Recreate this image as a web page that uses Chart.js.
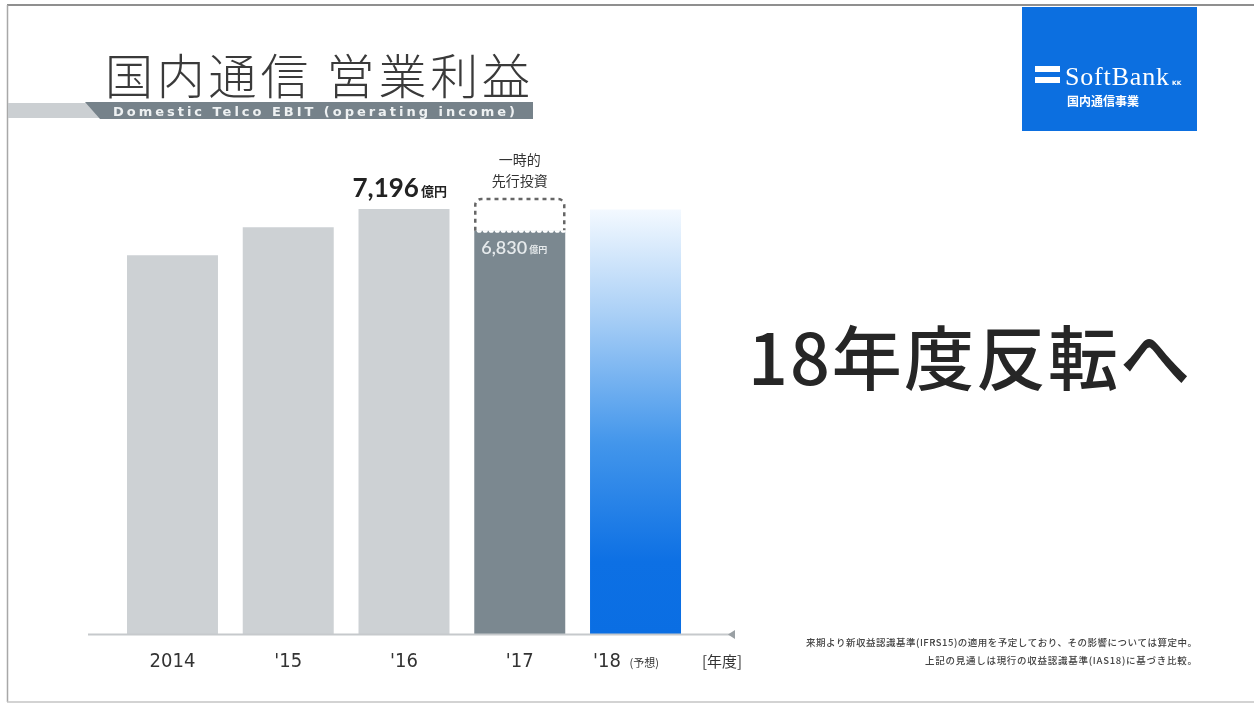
<!DOCTYPE html>
<html><head><meta charset="utf-8">
<script src="https://cdn.jsdelivr.net/npm/chart.js@4"></script>
<style>html,body{margin:0;padding:0;background:#fff;}canvas{display:block;}</style>
</head><body>
<canvas id="c" width="1254" height="704"></canvas>
<script>
const categories = ["2014", "'15", "'16", "'17", "'18"];
const categoryNotes = ["", "", "", "", "(予想)"];
const ebitValues = [6416, 6890, 7196, 6830, 7190];
const tempInvestmentTop = [null, null, null, 7365, null];
const valueLabels = [null, null, "7,196", "6,830", null];
const unitLabel = "億円";
const xAxisUnit = "[年度]";
const titleText = "国内通信 営業利益";
const subtitleText = "Domestic Telco EBIT (operating income)";
const headline = "18年度反転へ";
const tempInvestLabel = ["一時的", "先行投資"];
const footnotes = ["来期より新収益認識基準(IFRS15)の適用を予定しており、その影響については算定中。", "上記の見通しは現行の収益認識基準(IAS18)に基づき比較。"];

const CJK = "'Noto Sans CJK JP','Noto Sans',sans-serif";
const NARROW = "'Liberation Sans Narrow','DejaVu Sans Condensed','Open Sans',sans-serif";

function fitText(ctx, text, x, y, width, font, color, align) {
  ctx.save();
  ctx.font = font; ctx.fillStyle = color; ctx.textBaseline = 'alphabetic';
  ctx.letterSpacing = '0px';
  const w = ctx.measureText(text).width;
  const n = [...text].length;
  const sp = n > 1 ? (width - w) / (n - 1) : 0;
  ctx.letterSpacing = sp + 'px';
  ctx.textAlign = 'left';
  let sx = x;
  if (align === 'right') sx = x - width;
  ctx.fillText(text, sx, y);
  ctx.restore();
}

const decor = {
  id: 'decor',
  beforeDraw(chart) {
    const ctx = chart.ctx;
    ctx.save();
    ctx.fillStyle = '#fff'; ctx.fillRect(0, 0, 1254, 704);
    // frame
    ctx.strokeStyle = '#8f8f8f'; ctx.lineWidth = 2;
    ctx.beginPath(); ctx.moveTo(7, 5); ctx.lineTo(1254, 5); ctx.stroke();
    ctx.strokeStyle = '#a8a8a8'; ctx.lineWidth = 1.5;
    ctx.beginPath(); ctx.moveTo(7.5, 5); ctx.lineTo(7.5, 702); ctx.stroke();
    ctx.strokeStyle = '#c4c4c4';
    ctx.beginPath(); ctx.moveTo(7, 702); ctx.lineTo(1254, 702); ctx.stroke();
    // title
    fitText(ctx, titleText, 105, 94, 425, "300 48px " + CJK, '#3a3a3a');
    // subtitle band
    ctx.fillStyle = '#cbcfd2'; ctx.fillRect(8, 103, 95, 15);
    ctx.fillStyle = '#76828a';
    ctx.beginPath(); ctx.moveTo(85, 102); ctx.lineTo(533, 102); ctx.lineTo(533, 119); ctx.lineTo(100, 119); ctx.closePath(); ctx.fill();
    fitText(ctx, subtitleText, 113, 116, 402, "bold 13px 'DejaVu Sans',sans-serif", '#eef1f2');
    // logo
    ctx.fillStyle = '#0c6fe0'; ctx.fillRect(1022, 7, 175, 124);
    ctx.fillStyle = '#fff';
    ctx.fillRect(1035, 66, 25, 6); ctx.fillRect(1035, 77, 25, 6);
    fitText(ctx, 'SoftBank', 1065, 85, 104, "26px 'Liberation Serif',serif", '#fff');
    ctx.fillStyle = '#fff'; ctx.textAlign = 'left'; ctx.textBaseline = 'alphabetic';
    ctx.font = "bold 6px 'DejaVu Sans',sans-serif"; ctx.fillText('KK', 1172, 85);
    ctx.font = "bold 12px " + CJK; ctx.textAlign = 'center';
    ctx.fillText('国内通信事業', 1103, 106);
    // headline
    fitText(ctx, headline, 748, 385, 442, "500 70px " + CJK, '#262626');
    // footnotes
    fitText(ctx, footnotes[0], 1197, 646, 391, "500 9.5px " + CJK, '#444', 'right');
    fitText(ctx, footnotes[1], 1197, 664, 272, "500 9.5px " + CJK, '#444', 'right');
    ctx.restore();
  },
  afterDatasetsDraw(chart) {
    const ctx = chart.ctx;
    const xs = chart.scales.x, ys = chart.scales.y;
    const meta = chart.getDatasetMeta(0);
    const y0 = ys.getPixelForValue(0);
    ctx.save();
    // axis line
    ctx.strokeStyle = '#c6c9cc'; ctx.lineWidth = 2;
    ctx.beginPath(); ctx.moveTo(88, y0 + 0.5); ctx.lineTo(735, y0 + 0.5); ctx.stroke();
    ctx.fillStyle = '#9aa0a4';
    ctx.beginPath(); ctx.moveTo(728, y0 + 0.5); ctx.lineTo(735, y0 - 4); ctx.lineTo(735, y0 + 5); ctx.closePath(); ctx.fill();
    // unit on axis
    ctx.fillStyle = '#333'; ctx.font = "15px " + CJK; ctx.textAlign = 'left'; ctx.textBaseline = 'middle';
    ctx.fillText(xAxisUnit, 702, y0 + 27);
    // notes after tick labels
    categoryNotes.forEach((n, i) => {
      if (!n) return;
      const cx = xs.getPixelForValue(i);
      ctx.font = "11px " + CJK; ctx.fillStyle = '#333'; ctx.textAlign = 'left'; ctx.textBaseline = 'middle';
      ctx.fillText(n, cx - 6, y0 + 29);
    });
    // temporary investment box
    tempInvestmentTop.forEach((v, i) => {
      if (v == null) return;
      const bar = meta.data[i];
      const l = bar.x - bar.width / 2 + 1, r = bar.x + bar.width / 2 - 1;
      const top = ys.getPixelForValue(v), bot = ys.getPixelForValue(ebitValues[i]);
      ctx.strokeStyle = '#666'; ctx.lineWidth = 2.5; ctx.setLineDash([4, 4]);
      const rad = 6;
      ctx.beginPath();
      ctx.moveTo(l, bot); ctx.lineTo(l, top + rad); ctx.arcTo(l, top, l + rad, top, rad);
      ctx.lineTo(r - rad, top); ctx.arcTo(r, top, r, top + rad, rad); ctx.lineTo(r, bot);
      ctx.stroke();
      ctx.setLineDash([]);
      // scallops
      ctx.fillStyle = '#fff';
      for (let x = l + 1; x < r; x += 6) {
        ctx.beginPath(); ctx.arc(x + 3, bot - 0.5, 2.6, 0, Math.PI); ctx.fill();
      }
      ctx.fillStyle = '#333'; ctx.font = "14px " + CJK; ctx.textAlign = 'center'; ctx.textBaseline = 'alphabetic';
      ctx.fillText(tempInvestLabel[0], bar.x, 165);
      ctx.fillText(tempInvestLabel[1], bar.x, 186);
    });
    // value labels
    valueLabels.forEach((t, i) => {
      if (!t) return;
      const bar = meta.data[i];
      ctx.textBaseline = 'alphabetic'; ctx.textAlign = 'left';
      if (tempInvestmentTop[i] != null) {
        ctx.fillStyle = '#e6eaec';
        ctx.font = "600 18px 'Lato','Open Sans',sans-serif";
        const l = bar.x - bar.width / 2 + 7;
        ctx.fillText(t, l, 254);
        const w = ctx.measureText(t).width;
        ctx.font = "bold 9px " + CJK; ctx.fillText(unitLabel, l + w + 2, 253);
      } else {
        ctx.fillStyle = '#222';
        ctx.font = "bold 26px 'Lato','Open Sans',sans-serif";
        const l = bar.x - bar.width / 2 - 6;
        ctx.fillText(t, l, 197);
        const w = ctx.measureText(t).width;
        ctx.font = "bold 13px " + CJK; ctx.fillText(unitLabel, l + w + 2, 196);
      }
    });
    ctx.restore();
  }
};

const barColors = (c) => {
  const i = c.dataIndex;
  if (i === 3) return '#7b8890';
  if (i === 4) {
    const chart = c.chart;
    const ys = chart.scales.y;
    if (!ys || !chart.chartArea) return '#0c6fe0';
    const yb = ys.getPixelForValue(0), yt = ys.getPixelForValue(ebitValues[i]);
    const g = chart.ctx.createLinearGradient(0, yb, 0, yt);
    g.addColorStop(0, '#0a6ee3');
    g.addColorStop(0.17, '#0d70e4');
    g.addColorStop(0.45, '#4396eb');
    g.addColorStop(0.75, '#a9cff6');
    g.addColorStop(1, '#f3f9ff');
    return g;
  }
  return '#cdd1d4';
};

new Chart(document.getElementById('c'), {
  type: 'bar',
  data: {
    labels: categories,
    datasets: [{ data: ebitValues, backgroundColor: barColors, borderWidth: 0,
      categoryPercentage: 1, barPercentage: 0.786 }]
  },
  options: {
    responsive: false, animation: false, devicePixelRatio: 1,
    layout: { padding: { left: 114.6, right: 560.6, top: 161.6, bottom: 22 } },
    plugins: { legend: { display: false }, tooltip: { enabled: false } },
    scales: {
      x: {
        grid: { display: false }, border: { display: false },
        ticks: {
          padding: 8, color: '#333',
          font: { family: NARROW, size: 20 },
          callback: (v, i) => categoryNotes[i] ? categories[i] + '          ' : categories[i]
        }
      },
      y: { display: false, min: 0, max: 8000 }
    }
  },
  plugins: [decor]
});
</script>
</body></html>
